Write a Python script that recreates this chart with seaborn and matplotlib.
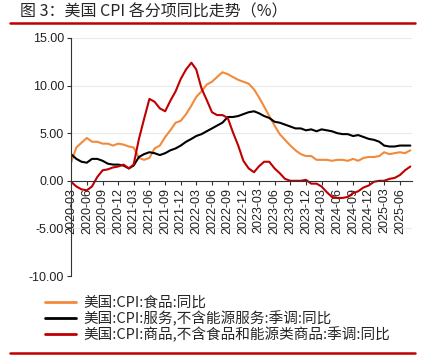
import pandas as pd
import matplotlib
matplotlib.use("Agg")
import matplotlib.pyplot as plt
import matplotlib.dates as mdates
from matplotlib.lines import Line2D
import seaborn as sns

############################################################
# Data (monthly, 2020-03 .. 2025-08)
############################################################

months = pd.date_range("2020-03-01", "2025-08-01", freq="MS")

food = [
    1.9, 3.5, 4.0, 4.5, 4.1, 4.1, 3.9, 3.9, 3.7, 3.9,
    3.8, 3.6, 3.5, 2.4, 2.2, 2.4, 3.4, 3.7, 4.6, 5.3, 6.1, 6.3,
    7.0, 7.9, 8.8, 9.4, 10.1, 10.4, 10.9, 11.4, 11.2, 10.9, 10.6, 10.4,
    10.2, 9.6, 8.8, 7.8, 6.8, 5.8, 4.9, 4.3, 3.7, 3.2, 2.8, 2.6,
    2.6, 2.2, 2.2, 2.2, 2.1, 2.2, 2.2, 2.1, 2.3, 2.1, 2.4, 2.5,
    2.5, 2.6, 3.0, 2.8, 2.9, 3.0, 2.9, 3.2,
]

services = [
    2.8, 2.3, 2.0, 1.9, 2.3, 2.3, 2.1, 1.8, 1.7, 1.7,
    1.6, 1.3, 1.6, 2.5, 2.8, 3.0, 2.9, 2.7, 2.9, 3.2, 3.4, 3.7,
    4.1, 4.4, 4.7, 4.9, 5.2, 5.5, 5.8, 6.1, 6.7, 6.7, 6.8, 7.0,
    7.2, 7.3, 7.1, 6.8, 6.6, 6.2, 6.1, 5.9, 5.7, 5.5, 5.5, 5.3,
    5.4, 5.2, 5.4, 5.3, 5.2, 5.0, 4.9, 4.9, 4.7, 4.8, 4.6, 4.4,
    4.3, 4.1, 3.7, 3.6, 3.6, 3.7, 3.7, 3.7,
]

goods = [
    -0.1, -0.6, -0.9, -1.0, -0.6, 0.4, 1.1, 1.2, 1.4, 1.5,
    1.7, 1.3, 1.7, 4.4, 6.5, 8.6, 8.3, 7.6, 7.3, 8.4, 9.4, 10.7,
    11.7, 12.4, 11.7, 9.7, 8.5, 7.2, 6.9, 6.9, 6.6, 5.1, 3.7, 2.1,
    1.3, 0.9, 1.5, 2.0, 2.0, 1.3, 0.8, 0.2, 0.0, 0.0, 0.0, 0.1,
    -0.3, -0.3, -0.6, -1.2, -1.7, -1.8, -1.8, -1.7, -1.3, -1.1, -0.7, -0.5,
    -0.1, 0.0, 0.0, 0.2, 0.3, 0.6, 1.1, 1.5,
]

series_names = [
    "美国:CPI:食品:同比",
    "美国:CPI:服务,不含能源服务:季调:同比",
    "美国:CPI:商品,不含食品和能源类商品:季调:同比",
]
colors = ["#F28A3C", "#000000", "#C00000"]

y_ticks = [-10, -5, 0, 5, 10, 15]
x_ticks = pd.date_range("2020-03-01", "2025-06-01", freq="3MS")

############################################################
# Plot
############################################################

df = pd.DataFrame({
    "date": months,
    series_names[0]: food,
    series_names[1]: services,
    series_names[2]: goods,
}).melt(id_vars="date", var_name="series", value_name="value")

sns.set_style("white")
plt.rcParams["font.family"] = ["Liberation Sans", "Noto Sans CJK SC", "DejaVu Sans"]

fig = plt.figure(figsize=(4.27, 3.58), dpi=100)
ax = fig.add_axes([0.166, 0.229, 0.799, 0.665])

sns.lineplot(
    data=df, x="date", y="value", hue="series",
    hue_order=series_names, palette=colors,
    linewidth=1.5, legend=False, ax=ax,
)

ax.set_ylim(-10, 15)
ax.set_xlim(months[0] - pd.Timedelta(days=1), months[-1] + pd.Timedelta(days=10))
ax.set_yticks(y_ticks)
ax.set_yticklabels([f"{v:.2f}" for v in y_ticks])
ax.set_xticks(x_ticks)
ax.xaxis.set_major_formatter(mdates.DateFormatter("%Y-%m"))
ax.set_xlabel("")
ax.set_ylabel("")

for v in y_ticks:
    if v != 0:
        ax.axhline(v, color="#EAEAEA", linewidth=0.8, zorder=0)

ax.spines["top"].set_visible(False)
ax.spines["right"].set_visible(False)
ax.spines["bottom"].set_position(("data", 0))
ax.spines["left"].set_color("#333333")
ax.spines["bottom"].set_color("#333333")
ax.tick_params(axis="both", direction="out", length=3, width=0.8,
               color="#333333", pad=2, left=True, bottom=True,
               labelsize=9, labelcolor="#222222")
ax.tick_params(axis="x", labelrotation=90)

# title and rules
fig.text(0.047, 0.966, "图 3：美国 CPI 各分项同比走势（%）",
         fontsize=11.5, va="center", ha="left",
         family=["Noto Sans CJK SC", "DejaVu Sans"])
fig.add_artist(Line2D([0.023, 0.972], [0.936, 0.936], color="#C00000", linewidth=1.8))
fig.add_artist(Line2D([0.023, 0.972], [0.014, 0.014], color="#C00000", linewidth=1.8))

handles = [Line2D([0], [0], color=c, linewidth=2) for c in colors]
fig.legend(
    handles, series_names,
    loc="upper left", bbox_to_anchor=(0.092, 0.19),
    frameon=False, handlelength=2.1, handletextpad=0.5,
    labelspacing=0.05, borderaxespad=0,
    prop={"family": ["Noto Sans CJK SC", "DejaVu Sans"], "size": 10.5},
)

fig.savefig("out.png", dpi=100)
